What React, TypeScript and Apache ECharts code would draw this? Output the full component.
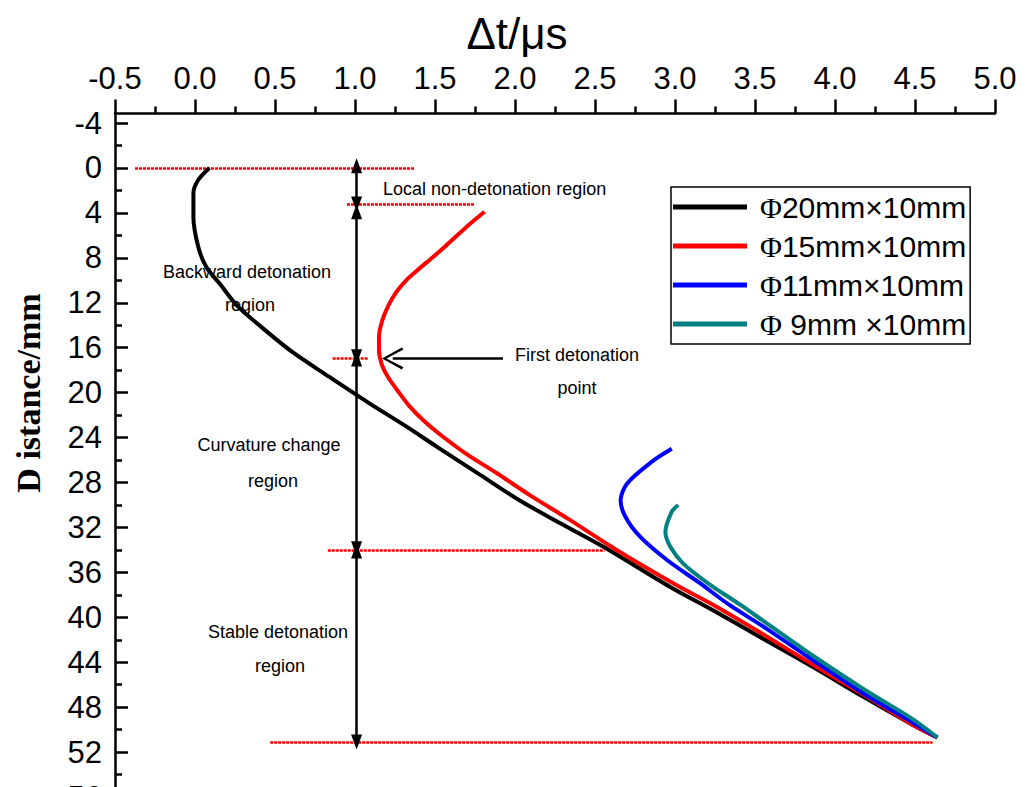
import React, { useEffect, useRef } from 'react';
import * as echarts from 'echarts';

// Δt (µs) , Distance (mm)
const phi20: number[][] = [
  [0.09, 0.0], [0.02, 1.07], [-0.01, 2.25], [-0.01, 4.34], [0.02, 7.0], [0.07, 8.8],
  [0.16, 10.4], [0.26, 12.2], [0.41, 14.1], [0.61, 16.4], [0.84, 18.6], [1.09, 20.95],
  [1.32, 23.0], [1.51, 24.8], [1.78, 27.3], [2.03, 29.6], [2.28, 31.6], [2.55, 33.7],
  [2.97, 37.3], [3.24, 39.4], [3.55, 41.9], [3.86, 44.4], [4.18, 47.1], [4.49, 49.6], [4.64, 50.7],
];
const phi15: number[][] = [
  [1.81, 3.9], [1.7, 5.2], [1.57, 6.9], [1.49, 7.9], [1.39, 9.1], [1.32, 10.0], [1.26, 11.0],
  [1.21, 12.2], [1.17, 13.6], [1.15, 15.0], [1.15, 16.2], [1.17, 17.6], [1.21, 18.7], [1.27, 19.9],
  [1.34, 21.2], [1.43, 22.5], [1.53, 23.7], [1.7, 25.5], [1.89, 27.2], [2.09, 29.1], [2.34, 31.3],
  [2.59, 33.6], [2.81, 35.5], [3.03, 37.3], [3.24, 38.9], [3.55, 41.5], [3.86, 44.2], [4.18, 46.9],
  [4.49, 49.6], [4.64, 50.7],
];
const phi11: number[][] = [
  [2.98, 25.0], [2.86, 26.1], [2.7, 28.1], [2.66, 29.6], [2.69, 31.05], [2.78, 32.8], [2.95, 34.9],
  [3.16, 37.0], [3.34, 38.9], [3.55, 40.8], [3.86, 43.8], [4.18, 46.8], [4.49, 49.4], [4.64, 50.7],
];
const phi9: number[][] = [
  [3.02, 30.0], [2.98, 30.6], [2.94, 32.4], [2.97, 33.7], [3.05, 35.2], [3.2, 36.9], [3.41, 38.9],
  [3.55, 40.3], [3.86, 43.4], [4.18, 46.4], [4.49, 49.1], [4.64, 50.7],
];
const seriesNames = ['Φ20mm×10mm', 'Φ15mm×10mm', 'Φ11mm×10mm', 'Φ 9mm ×10mm'];
const seriesData = [phi20, phi15, phi11, phi9];
const seriesColors = ['#000000', '#ff0000', '#0000ff', '#008080'];

// region boundaries: [xStart, xEnd, distance]
const boundaryLines: number[][] = [
  [-0.375, 1.375, 0], [0.95, 1.75, 3.25], [0.86, 1.08, 16.9], [0.83, 2.56, 34.0], [0.47, 4.61, 51.1],
];
// region arrows: [x, from, to]
const regionArrows: number[][] = [
  [1.01, -0.2, 3.2], [1.01, 3.9, 16.8], [1.01, 17.0, 33.9], [1.01, 34.1, 51.1],
];
// first detonation pointer: [xFrom, xTo, distance]
const pointer = [1.925, 1.236, 16.95];

const X_TITLE = 'Δt/μs';
const Y_TITLE = 'D istance/mm';

export default function App() {
  const ref = useRef<HTMLDivElement>(null);
  useEffect(() => {
    if (!ref.current) return;
    const chart = echarts.init(ref.current, undefined, { renderer: 'svg' });
    const sans = 'Arial, "Liberation Sans", sans-serif';
    const serif = '"Times New Roman", "Liberation Serif", serif';

    const markData: any[] = [];
    boundaryLines.forEach(([x1, x2, y]) => {
      markData.push([
        { coord: [x1, y], symbol: 'none', lineStyle: { color: '#ff0000', width: 2.5, type: [3, 1] } },
        { coord: [x2, y], symbol: 'none' },
      ]);
    });
    regionArrows.forEach(([x, y1, y2]) => {
      markData.push([
        { coord: [x, y1], symbol: 'triangle', symbolSize: [11, 15], lineStyle: { color: '#000', width: 2.5, type: 'solid' }, itemStyle: { color: '#000' } },
        { coord: [x, y2], symbol: 'triangle', symbolSize: [11, 15], itemStyle: { color: '#000' } },
      ]);
    });
    markData.push([
      { coord: [pointer[0], pointer[2]], symbol: 'none', lineStyle: { color: '#000', width: 2.5, type: 'solid' } },
      { coord: [pointer[1], pointer[2]], symbol: 'path://M0,0 L10,18 L8,19.5 L0,4 L-8,19.5 L-10,18 Z', symbolSize: [22, 22], symbolKeepAspect: true, itemStyle: { color: '#000' } },
    ]);

    const series: any[] = seriesNames.map((name, i) => ({
      name,
      type: 'line',
      xAxisIndex: 0,
      yAxisIndex: 0,
      data: seriesData[i],
      smooth: 0.3,
      showSymbol: false,
      symbol: 'none',
      lineStyle: { color: seriesColors[i], width: 4 },
      itemStyle: { color: seriesColors[i] },
      z: 3,
    }));
    series.push({
      name: 'annotations',
      type: 'line',
      xAxisIndex: 0,
      yAxisIndex: 0,
      data: [],
      markLine: { silent: true, animation: false, label: { show: false }, data: markData, z: 2 },
    });

    const texts: [string, number, number, string][] = [
      ['Local non-detonation region', 383, 189, 'left'],
      ['Backward detonation', 247, 272, 'center'],
      ['region', 250, 305, 'center'],
      ['First detonation', 577, 355, 'center'],
      ['point', 577, 388, 'center'],
      ['Curvature change', 269, 445, 'center'],
      ['region', 273, 481, 'center'],
      ['Stable detonation', 278, 632, 'center'],
      ['region', 280, 666, 'center'],
    ];

    chart.setOption({
      animation: false,
      backgroundColor: '#ffffff',
      grid: [
        { left: 115, right: 32, top: 113.5, height: 728.5, outerBoundsMode: 'none', containLabel: false },
        { left: 115, right: 32, top: 123, height: 719, outerBoundsMode: 'none', containLabel: false },
      ],
      xAxis: [
        {
          gridIndex: 0, type: 'value', position: 'top', min: -0.5, max: 5, interval: 0.5,
          axisLine: { show: true, onZero: false, lineStyle: { color: '#000', width: 2.5 } },
          axisTick: { show: true, inside: false, length: 14, lineStyle: { color: '#000', width: 2.5 } },
          minorTick: { show: true, splitNumber: 2, length: 7, lineStyle: { color: '#000', width: 2.5 } },
          axisLabel: { color: '#000', fontSize: 31, fontFamily: sans, margin: 20, formatter: (v: number) => v.toFixed(1) },
          splitLine: { show: false },
        },
        { gridIndex: 1, type: 'value', min: -0.5, max: 5, show: false },
      ],
      yAxis: [
        {
          gridIndex: 0, type: 'value', inverse: true, min: -4.85, max: 60,
          axisLine: { show: true, onZero: false, lineStyle: { color: '#000', width: 2.5 } },
          axisTick: { show: false }, axisLabel: { show: false }, splitLine: { show: false },
        },
        {
          gridIndex: 1, type: 'value', inverse: true, min: -4, max: 60, interval: 4,
          axisLine: { show: false, onZero: false },
          axisTick: { show: true, inside: true, length: 13, lineStyle: { color: '#000', width: 2.5 } },
          minorTick: { show: true, splitNumber: 2, length: 7, lineStyle: { color: '#000', width: 2.5 } },
          axisLabel: { color: '#000', fontSize: 31, fontFamily: sans, margin: 13, showMinLabel: true, hideOverlap: false },
          splitLine: { show: false },
        },
      ],
      legend: {
        data: seriesNames,
        orient: 'vertical',
        left: 671,
        top: 187,
        padding: [5, 4, 5, 2],
        itemGap: 9,
        itemWidth: 74,
        itemHeight: 5,
        icon: 'rect',
        borderColor: '#000',
        borderWidth: 1.5,
        backgroundColor: '#fff',
        formatter: (name: string) => '{p|Φ}' + name.slice(1),
        textStyle: {
          color: '#000', fontSize: 30, fontFamily: sans, padding: [0, 0, 0, 8],
          rich: { p: { fontFamily: serif, fontSize: 30, color: '#000' } },
        },
      },
      graphic: [
        { type: 'text', x: 517, y: 33, style: { text: X_TITLE, fontSize: 44, fontFamily: sans, fill: '#000', align: 'center', verticalAlign: 'middle' } },
        { type: 'text', x: 28, y: 393, rotation: Math.PI / 2, style: { text: Y_TITLE, fontSize: 34, fontWeight: 'bold', fontFamily: serif, fill: '#000', align: 'center', verticalAlign: 'middle' } },
        ...texts.map(([t, x, y, a]) => ({
          type: 'text', x, y, style: { text: t, fontSize: 18, fontFamily: sans, fill: '#000', align: a, verticalAlign: 'middle' },
        })),
      ],
      series,
    });
    return () => chart.dispose();
  }, []);
  return <div ref={ref} style={{ position: 'fixed', left: 0, top: 0, width: 1027, height: 900, background: '#fff' }} />;
}
